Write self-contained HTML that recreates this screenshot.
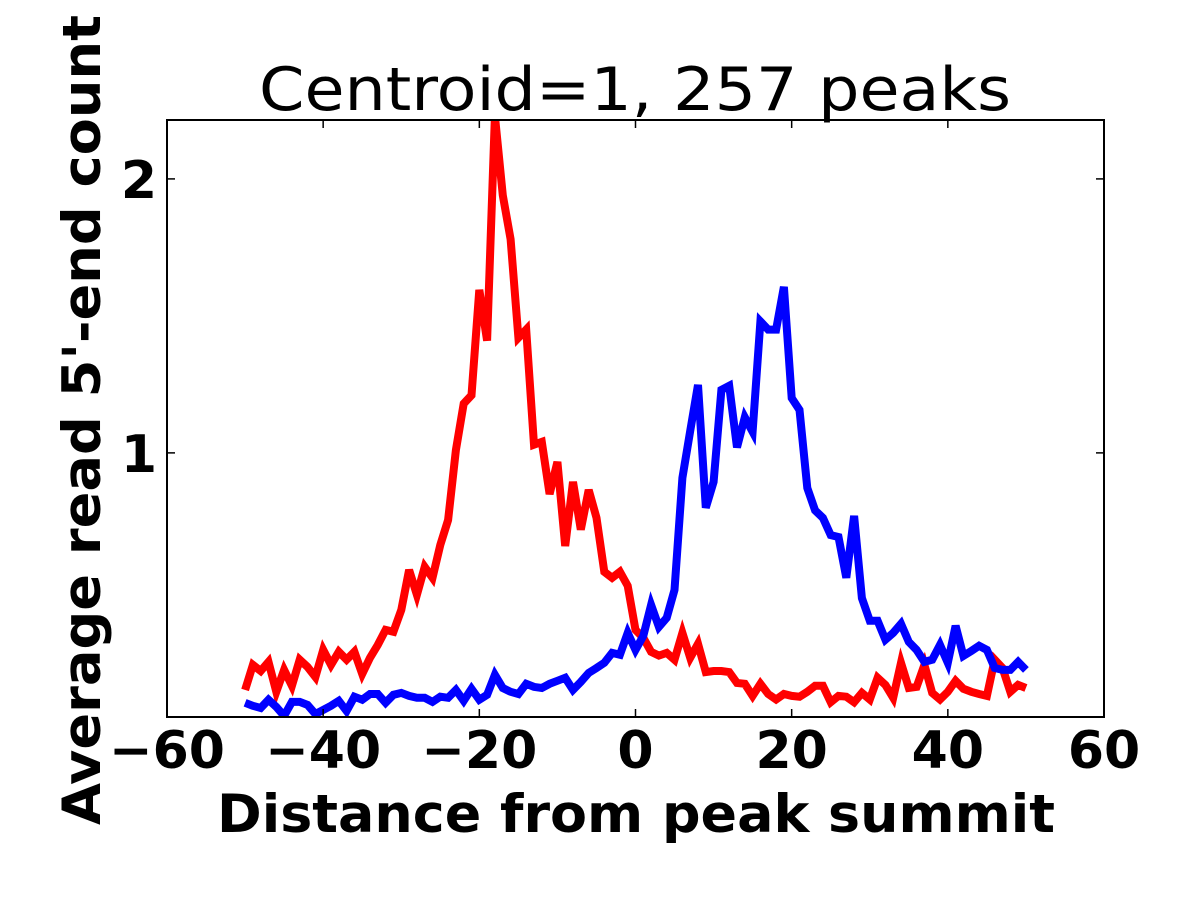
<!DOCTYPE html>
<html><head><meta charset="utf-8"><style>html,body{margin:0;padding:0;background:#fff}svg{display:block}</style></head>
<body>
<svg id="chart" width="1200" height="900" xmlns="http://www.w3.org/2000/svg" font-family="DejaVu Sans, Liberation Sans, sans-serif">
<rect width="1200" height="900" fill="#fff"/>
<text x="635" y="110" font-size="60" text-anchor="middle" textLength="752" lengthAdjust="spacingAndGlyphs">Centroid=1, 257 peaks</text>
<text x="636" y="832" font-size="53" font-weight="bold" text-anchor="middle" textLength="838" lengthAdjust="spacingAndGlyphs">Distance from peak summit</text>
<text transform="translate(100,420) rotate(-90)" font-size="53" font-weight="bold" text-anchor="middle" textLength="810" lengthAdjust="spacingAndGlyphs">Average read 5'-end count</text>
<g id="plot"></g>
</svg>
<script>
const xValues = [];
for (let i = -50; i <= 50; i++) xValues.push(i);
const redSeries = [0.135,0.226,0.204,0.237,0.128,0.208,0.15,0.245,0.219,0.182,0.281,0.226,0.274,0.245,0.274,0.193,0.252,0.299,0.354,0.347,0.427,0.573,0.482,0.584,0.544,0.664,0.755,1.01,1.18,1.21,1.595,1.41,2.23,1.94,1.78,1.42,1.45,1.03,1.04,0.85,0.967,0.66,0.894,0.72,0.865,0.763,0.566,0.544,0.566,0.515,0.354,0.325,0.274,0.26,0.27,0.245,0.343,0.252,0.303,0.2,0.204,0.204,0.2,0.16,0.157,0.113,0.157,0.12,0.1,0.12,0.113,0.11,0.128,0.15,0.15,0.09,0.113,0.11,0.09,0.124,0.1,0.179,0.153,0.106,0.234,0.142,0.146,0.226,0.124,0.1,0.128,0.168,0.139,0.128,0.12,0.113,0.245,0.215,0.128,0.153,0.142];
const blueSeries = [0.088,0.077,0.069,0.099,0.073,0.04,0.091,0.091,0.08,0.047,0.062,0.077,0.095,0.058,0.11,0.099,0.12,0.12,0.088,0.117,0.124,0.113,0.106,0.106,0.091,0.11,0.106,0.135,0.095,0.139,0.099,0.117,0.19,0.142,0.128,0.12,0.157,0.146,0.142,0.157,0.168,0.179,0.135,0.164,0.197,0.215,0.234,0.27,0.263,0.343,0.281,0.332,0.445,0.365,0.398,0.5,0.909,1.08,1.248,0.8,0.894,1.23,1.245,1.02,1.13,1.077,1.48,1.45,1.45,1.606,1.2,1.157,0.872,0.79,0.763,0.7,0.693,0.544,0.77,0.47,0.387,0.387,0.318,0.343,0.376,0.31,0.281,0.237,0.245,0.299,0.234,0.369,0.259,0.277,0.296,0.281,0.215,0.208,0.208,0.237,0.208];
const xTicks = [-60,-40,-20,0,20,40,60];
const xTickLabels = ["\u221260","\u221240","\u221220","0","20","40","60"];
const yTicks = [1,2];
const yTickLabels = ["1","2"];

const L=167,R=1104,T=120,B=717;
const xMin=-60,xMax=60,yMin=0.036,yMax=2.215;
const sx=v=>L+(v-xMin)/(xMax-xMin)*(R-L);
const sy=v=>B-(v-yMin)/(yMax-yMin)*(B-T);
const NS='http://www.w3.org/2000/svg';
const g=document.getElementById('plot');
function mk(t,a){const e=document.createElementNS(NS,t);for(const k in a)e.setAttribute(k,a[k]);g.appendChild(e);return e;}

const cp=mk('clipPath',{id:'clip'});
const cr=document.createElementNS(NS,'rect');cr.setAttribute('x',L);cr.setAttribute('y',T);cr.setAttribute('width',R-L);cr.setAttribute('height',B-T);cp.appendChild(cr);

function line(vals,color,name){
  const d=vals.map((v,i)=>(i?'L':'M')+sx(xValues[i]).toFixed(1)+','+sy(v).toFixed(1)).join('');
  const p=mk('path',{d:d,fill:'none',stroke:color,'stroke-width':8,'stroke-linejoin':'miter','clip-path':'url(#clip)'});
  
  
}
line(redSeries,'#ff0000','red-series-line');
line(blueSeries,'#0000ff','blue-series-line');

const fr=mk('rect',{x:L,y:T,width:R-L,height:B-T,fill:'none',stroke:'#000','stroke-width':2});



xTicks.forEach((t,i)=>{
  const x=sx(t);
  mk('line',{x1:x,x2:x,y1:B,y2:B-8,stroke:'#000','stroke-width':1.5});
  mk('line',{x1:x,x2:x,y1:T,y2:T+8,stroke:'#000','stroke-width':1.5});
  const tx=mk('text',{x:x,y:768,'font-size':52,'font-weight':'bold','text-anchor':'middle'});
  tx.textContent=xTickLabels[i];
  
  
});
yTicks.forEach((t,i)=>{
  const y=sy(t);
  mk('line',{x1:L,x2:L+8,y1:y,y2:y,stroke:'#000','stroke-width':1.5});
  mk('line',{x1:R,x2:R-8,y1:y,y2:y,stroke:'#000','stroke-width':1.5});
  const tx=mk('text',{x:157,y:y+19,'font-size':52,'font-weight':'bold','text-anchor':'end'});
  tx.textContent=yTickLabels[i];
  
  
});
</script>
</body></html>
